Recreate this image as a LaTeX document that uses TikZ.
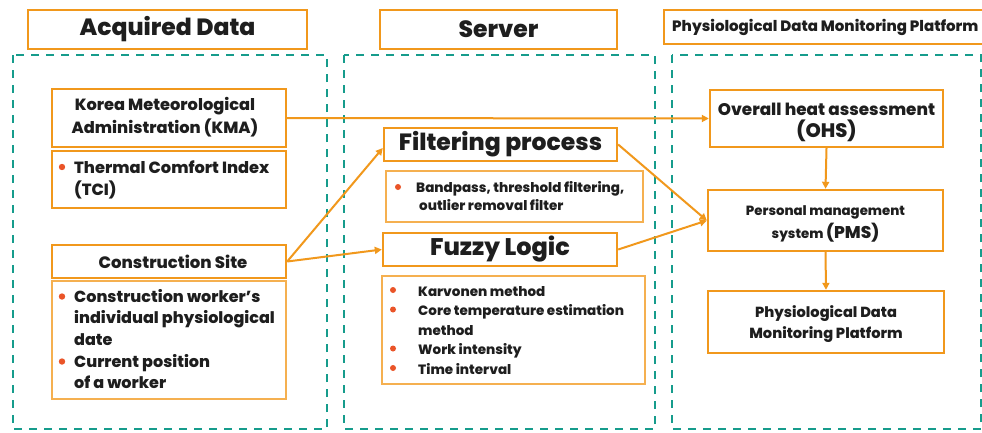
\documentclass[tikz,border=0pt]{standalone}
\usepackage{fontspec}
\setmainfont{Poppins}[BoldFont={Poppins ExtraBold}]
\usetikzlibrary{arrows.meta}
\definecolor{orng}{RGB}{241,152,28}
\definecolor{orngl}{RGB}{245,176,80}
\definecolor{zonec}{RGB}{22,156,140}
\definecolor{ink}{RGB}{30,30,30}
\definecolor{dotc}{RGB}{234,84,40}
\newcommand\fsz[2]{\fontsize{#1}{#2}\selectfont}
\tikzset{
  box/.style={draw=orng, line width=2.4pt, inner sep=0pt, text=ink, align=center},
  subbox/.style={draw=orngl, line width=1.4pt, inner sep=0pt},
  zone/.style={draw=zonec, line width=2.4pt, dash pattern=on 8pt off 7pt},
  link/.style={draw=orng, line width=2pt, -{Triangle[length=7pt,width=7pt]}},
  lst/.style={anchor=base west, inner sep=0pt, text=ink},
  lbl/.style={inner sep=0pt, text=ink, align=center},
  bullet/.style={fill=dotc},
}
\begin{document}
\begin{tikzpicture}[x=1pt,y=-1pt]
\useasboundingbox (0,0) rectangle (982,432);
\clip (0,0) rectangle (982,432);
\fill[white] (0,0) rectangle (982,432);

% column zones
\draw[zone] (13,55) rectangle (327,429);
\draw[zone] (344,55) rectangle (655,429);
\draw[zone] (672,55) rectangle (981,429);

% column headings
\node[box, minimum width=279pt, minimum height=39pt, font=\fsz{23.5}{26}\bfseries] (hdA) at (167.5,29.5) {Acquired Data};
\node[box, minimum width=237pt, minimum height=39pt, font=\fsz{23.5}{26}\bfseries] (hdS) at (498.5,29.5) {Server};
\node[box, minimum width=340pt, minimum height=34pt, anchor=west] (hdP) at (663,27) {};
\node[anchor=west, inner sep=0pt, text=ink, font=\fsz{15}{16}\bfseries] (hdPt) at (672,27) {Physiological Data Monitoring Platform};

% acquired data
\node[box, minimum width=234pt, minimum height=58pt] (kma) at (169,118) {};
\node[lbl, font=\fsz{16.2}{23}\bfseries] (kmat) at (165,117) {Korea Meteorological\\Administration (KMA)};
\node[box, minimum width=234pt, minimum height=57pt] (tci) at (169,179.5) {};
\node[lst, font=\fsz{16.2}{22}\bfseries] (tcit) at (74,173) {\begin{tabular}[t]{@{}l@{}}Thermal Comfort Index\\(TCI)\end{tabular}};
\node[box, minimum width=234pt, minimum height=33pt, font=\fsz{16.5}{17}\bfseries] (cs) at (169,261.5) {\hspace*{8pt}Construction Site};
\node[subbox, minimum width=234pt, minimum height=118pt] (csl) at (169,340) {};
\node[lst, font=\fsz{16}{21.7}\bfseries] (cslt) at (74,302) {\begin{tabular}[t]{@{}l@{}}Construction worker's\\individual physiological\\date\\Current position\\of a worker\end{tabular}};

% server
\node[box, minimum width=233pt, minimum height=33pt, font=\fsz{23.5}{24}\bfseries] (fp) at (500.5,144.5) {Filtering process};
\node[subbox, minimum width=257pt, minimum height=51pt] (bp) at (514.5,196.5) {};
\node[lst, font=\fsz{13.5}{18}\bfseries] (bpt) at (416,192) {\begin{tabular}[t]{@{}l@{}}Bandpass, threshold filtering,\\\hspace*{3pt}outlier removal filter\end{tabular}};
\node[box, minimum width=234pt, minimum height=33pt, font=\fsz{24}{24}\bfseries] (fl) at (500,249.5) {Fuzzy Logic};
\node[subbox, minimum width=263pt, minimum height=108pt] (fll) at (513.5,330) {};
\node[lst, font=\fsz{13.5}{19.5}\bfseries] (fllt) at (418,296) {\begin{tabular}[t]{@{}l@{}}Karvonen method\\Core temperature estimation\\method\\Work intensity\\Time interval\end{tabular}};

% list bullets
\fill[bullet] (62,167) circle (3.2pt);
\fill[bullet] (62,296.5) circle (3.2pt);
\fill[bullet] (62,361.5) circle (3.2pt);
\fill[bullet] (398,187) circle (3pt);
\foreach \yy in {290,309.5,348.5,368} \fill[bullet] (393,\yy) circle (3pt);

% monitoring platform
\node[box, minimum width=233pt, minimum height=57pt] (ohs) at (826.5,118.5) {};
\node[lbl, font=\fsz{16.8}{22}\bfseries] (ohst) at (826.5,122) {Overall heat assessment\\{\fsz{19.5}{22}(OHS)}};
\node[box, minimum width=235pt, minimum height=61pt] (pms) at (825.5,220.5) {};
\node[lbl, font=\fsz{13.3}{23}\bfseries] (pmst) at (825.5,223.5) {Personal management\\system {\fsz{17}{23}(PMS)}};
\node[box, minimum width=236pt, minimum height=62pt] (pdmp) at (826,322) {};
\node[lbl, font=\fsz{14.6}{21}\bfseries] (pdmpt) at (826,324) {Physiological Data\\Monitoring Platform};

% connectors
\draw[link] (kma.east) -- (ohs.west);
\draw[link] (cs.east) -- ([yshift=-3.5pt]fp.west);
\draw[link] (cs.east) -- (fl.west);
\draw[link] (fp.east) -- (pms.west);
\draw[link] (fl.east) -- (pms.west);
\draw[link] (ohs.south) -- (pms.north);
\draw[link] (pms.south) -- (pdmp.north);
\end{tikzpicture}
\end{document}
